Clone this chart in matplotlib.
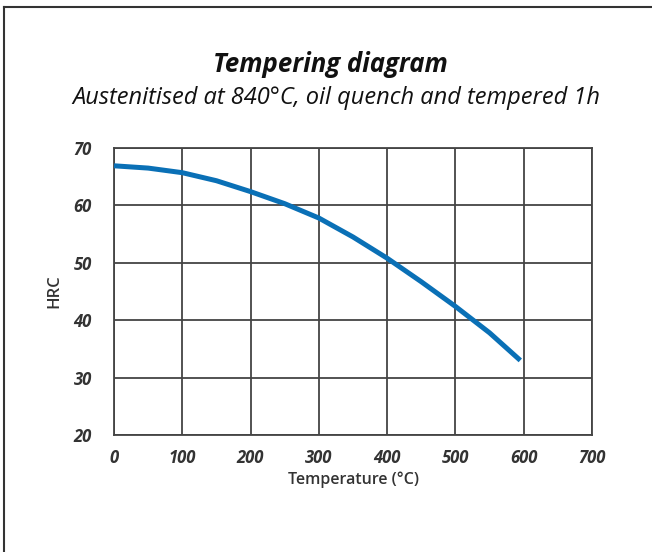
import matplotlib.pyplot as plt
from matplotlib.lines import Line2D

# Tempering curve
temp = [0, 50, 100, 150, 200, 250, 300, 350, 400, 450, 500, 550, 595]
hrc = [66.9, 66.5, 65.7, 64.3, 62.4, 60.3, 57.8, 54.5, 50.8, 46.7, 42.4, 37.8, 33.0]

x_ticks = [0, 100, 200, 300, 400, 500, 600, 700]
y_ticks = [20, 30, 40, 50, 60, 70]

plt.rcParams['font.family'] = ['Open Sans', 'DejaVu Sans']

fig = plt.figure(figsize=(6.52, 5.52), dpi=100)
ax = fig.add_axes([114/652, 1 - 435/552, (592 - 114)/652, (435 - 148)/552])

ax.plot(temp, hrc, color="#0a70b6", linewidth=3.6, solid_capstyle="butt",
        solid_joinstyle="round", zorder=3)

ax.set_xlim(0, 700)
ax.set_ylim(20, 70)
ax.set_xticks(x_ticks)
ax.set_yticks(y_ticks)
ax.grid(True, color="#444444", linewidth=1.3)
for s in ax.spines.values():
    s.set_color("#444444")
    s.set_linewidth(1.3)
ax.tick_params(length=0, labelsize=12, labelcolor="#333333")
for lbl in ax.get_xticklabels() + ax.get_yticklabels():
    lbl.set_fontweight("bold")
    lbl.set_fontstyle("italic")
ax.tick_params(axis="x", pad=10)
ax.tick_params(axis="y", pad=16)

ax.set_xlabel("Temperature (°C)", fontsize=11.5, fontweight="semibold",
              color="#333333", labelpad=3)
ax.set_ylabel("HRC", fontsize=12, fontweight="semibold", color="#333333", labelpad=8)

fig.text(330/652, 1 - 65/552, "Tempering diagram", ha="center", va="center",
         fontsize=18.5, fontweight="bold", fontstyle="italic", color="#111111")
fig.text(336/652, 1 - 98/552, "Austenitised at 840°C, oil quench and tempered 1h",
         ha="center", va="center", fontsize=17, fontstyle="italic", color="#111111")

# frame lines at top and left edge
fig.add_artist(Line2D([4/652, 4/652], [0, 1 - 7/552], color="#333333", linewidth=1.5))
fig.add_artist(Line2D([4/652, 1], [1 - 7/552, 1 - 7/552], color="#333333", linewidth=1.5))

fig.savefig("out.png", dpi=100)
